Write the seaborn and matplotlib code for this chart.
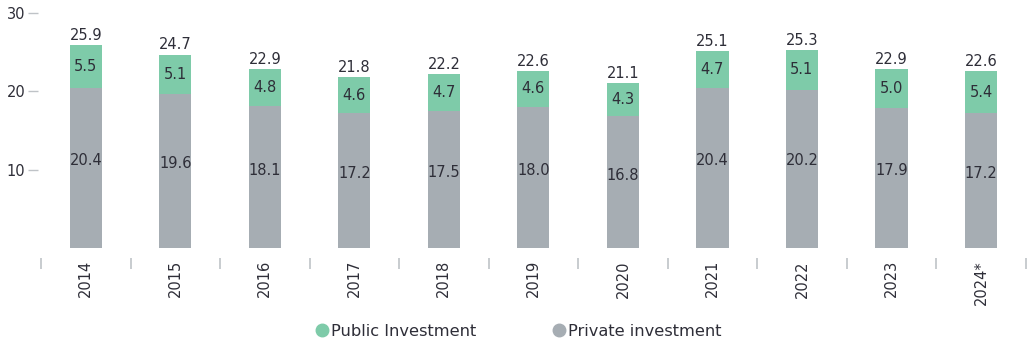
import matplotlib
matplotlib.use("Agg")
import matplotlib.pyplot as plt
from matplotlib.lines import Line2D
from matplotlib.ticker import FixedLocator
import seaborn as sns
import pandas as pd

years = ["2014", "2015", "2016", "2017", "2018", "2019", "2020", "2021", "2022", "2023", "2024*"]
private_inv = [20.4, 19.6, 18.1, 17.2, 17.5, 18.0, 16.8, 20.4, 20.2, 17.9, 17.2]
public_inv = [5.5, 5.1, 4.8, 4.6, 4.7, 4.6, 4.3, 4.7, 5.1, 5.0, 5.4]
totals = [25.9, 24.7, 22.9, 21.8, 22.2, 22.6, 21.1, 25.1, 25.3, 22.9, 22.6]
y_ticks = [10, 20, 30]

GREEN = "#7ECBA9"
GREY = "#A6ADB3"
TEXT = "#2E2E38"
RULE = "#BFC3C7"

sns.set_theme(style="white")
plt.rcParams["font.family"] = ["DejaVu Sans"]

df = pd.DataFrame({"year": years, "private": private_inv,
                   "public": public_inv, "total": totals})

fig = plt.figure(figsize=(10.3, 3.46), dpi=100)
ax = fig.add_axes([38 / 1030, 1 - 258 / 346, 992 / 1030, (258 - 13) / 346])

# Stacked bars: full height in green, private share overlaid in grey
sns.barplot(data=df, x="year", y="total", color=GREEN, width=0.36,
            saturation=1, ax=ax, order=years, linewidth=0, edgecolor="none")
sns.barplot(data=df, x="year", y="private", color=GREY, width=0.36,
            saturation=1, ax=ax, order=years, linewidth=0, edgecolor="none")

fs = 10.5
tot_container = ax.containers[0]
ax.bar_label(tot_container, labels=[f"{v:.1f}" for v in totals],
             padding=1.5, fontsize=fs, color=TEXT)
for i, (p, q) in enumerate(zip(private_inv, public_inv)):
    ax.text(i, p * 0.55, f"{p:.1f}", ha="center", va="center",
            fontsize=fs, color=TEXT)
    ax.text(i, p + q / 2, f"{q:.1f}", ha="center", va="center",
            fontsize=fs, color=TEXT)

ax.set_ylim(-1.28, 30)
ax.set_xlim(-0.534, 10.548)
ax.set_yticks(y_ticks)
ax.set_yticklabels([str(t) for t in y_ticks], fontsize=fs, color=TEXT)
ax.tick_params(axis="y", which="major", left=True, length=7.2, width=1,
               color=RULE, pad=2)

ax.xaxis.set_minor_locator(FixedLocator([i - 0.5 for i in range(len(years) + 1)]))
ax.tick_params(axis="x", which="minor", bottom=True, length=8, width=1.2,
               color=RULE, direction="out")
ax.tick_params(axis="x", which="major", length=0, pad=1.5)
ax.set_xticks(range(len(years)))
ax.set_xticklabels(years, rotation=90, fontsize=fs, color=TEXT, va="top")

ax.set_xlabel("")
ax.set_ylabel("")
for s in ax.spines.values():
    s.set_visible(False)
ax.grid(False)

handles = [
    Line2D([], [], marker="o", linestyle="", markersize=9,
           markerfacecolor=GREEN, markeredgecolor=GREEN),
    Line2D([], [], marker="o", linestyle="", markersize=9,
           markerfacecolor=GREY, markeredgecolor=GREY),
]
fig.legend(handles, ["Public Investment", "Private investment"],
           loc="center", bbox_to_anchor=(518 / 1030, 1 - 331 / 346),
           ncol=2, frameon=False, fontsize=11.7, labelcolor=TEXT,
           handletextpad=0.15, columnspacing=4.6, handlelength=0.9)

fig.savefig("out.png", dpi=100)
